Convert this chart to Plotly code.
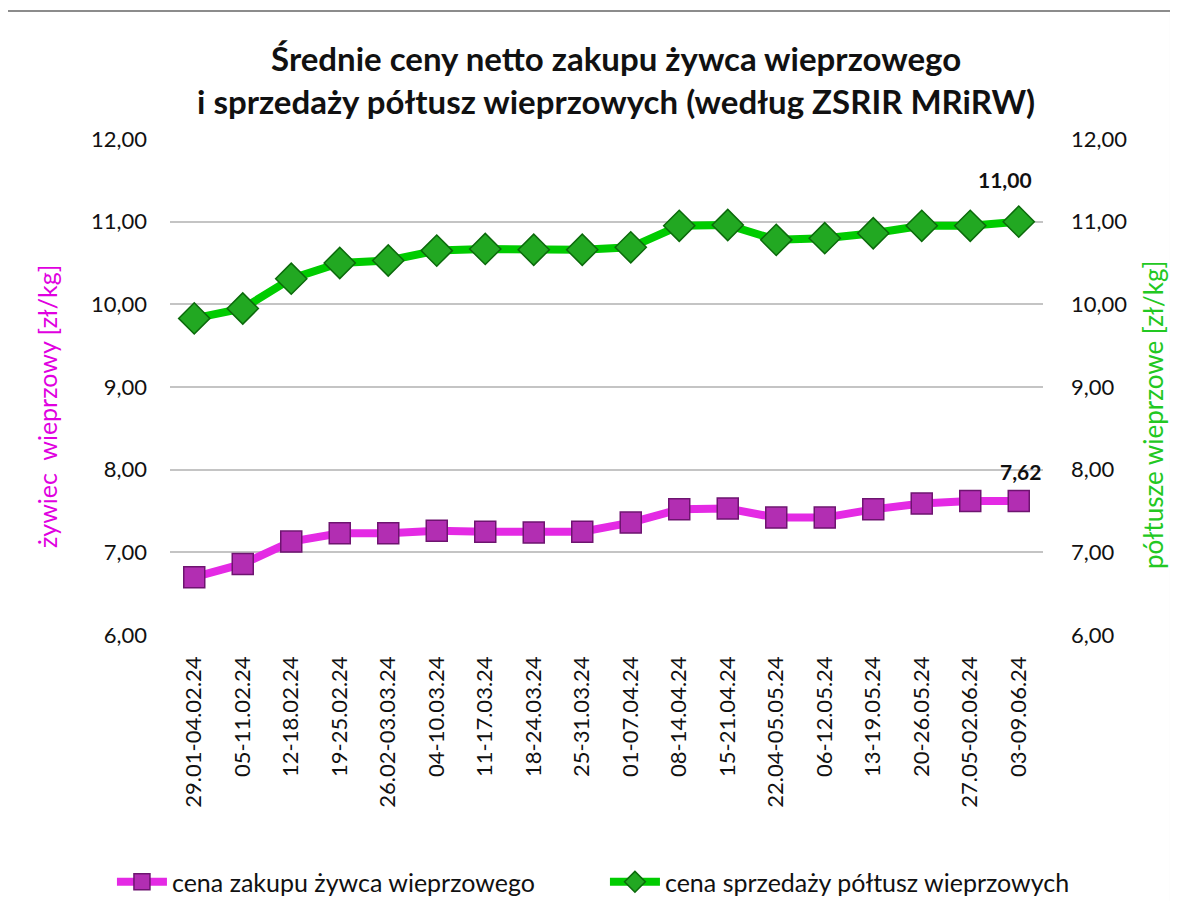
import plotly.graph_objects as go

weeks = ["29.01-04.02.24", "05-11.02.24", "12-18.02.24", "19-25.02.24", "26.02-03.03.24",
         "04-10.03.24", "11-17.03.24", "18-24.03.24", "25-31.03.24", "01-07.04.24",
         "08-14.04.24", "15-21.04.24", "22.04-05.05.24", "06-12.05.24", "13-19.05.24",
         "20-26.05.24", "27.05-02.06.24", "03-09.06.24"]
zywiec = [6.70, 6.86, 7.13, 7.23, 7.23, 7.26, 7.25, 7.24, 7.25, 7.36,
          7.52, 7.53, 7.42, 7.42, 7.52, 7.59, 7.62, 7.62]
poltusze = [9.83, 9.95, 10.31, 10.50, 10.53, 10.65, 10.67, 10.66, 10.66, 10.69,
            10.95, 10.96, 10.78, 10.80, 10.86, 10.95, 10.95, 11.00]
y_ticks = [6, 7, 8, 9, 10, 11, 12]

FONT = "Lato"

fig = go.Figure()
fig.add_trace(go.Scatter(
    x=weeks, y=zywiec, name="cena zakupu żywca wieprzowego", mode="lines+markers",
    line=dict(color="#E42AE4", width=8),
    marker=dict(symbol="square", size=21, color="#B22EB2", line=dict(color="#6E1470", width=1.5)),
    yaxis="y"))
fig.add_trace(go.Scatter(
    x=weeks, y=poltusze, name="cena sprzedaży półtusz wieprzowych", mode="lines+markers",
    line=dict(color="#00CC00", width=8),
    marker=dict(symbol="diamond", size=24, color="#22A822", line=dict(color="#0B6A0B", width=1.5)),
    yaxis="y2"))

fig.add_annotation(x=weeks[-1], y=poltusze[-1], yref="y2", text="<b>%.2f</b>" % poltusze[-1],
                   showarrow=False, yshift=42, xshift=-14,
                   font=dict(family=FONT, size=21, color="#111"))
fig.add_annotation(x=weeks[-1], y=zywiec[-1], yref="y", text="<b>%.2f</b>" % zywiec[-1],
                   showarrow=False, yshift=30, xshift=2,
                   font=dict(family=FONT, size=21, color="#111"))
for a in fig.layout.annotations:
    a.text = a.text.replace(".", ",")

fig.add_annotation(xref="paper", yref="paper", x=0.511, y=1.119, xanchor="center", yanchor="middle",
                   text="<b>Średnie ceny netto zakupu żywca wieprzowego<br>i sprzedaży półtusz wieprzowych (według ZSRIR MRiRW)</b>",
                   showarrow=False, font=dict(family=FONT, size=33, color="#111"))
fig.add_annotation(xref="paper", yref="paper", x=-0.1409, y=0.4617, textangle=-90,
                   xanchor="center", yanchor="middle",
                   text="żywiec\u00a0 wieprzowy [zł/kg]", showarrow=False,
                   font=dict(family=FONT, size=25, color="#E000E0"))
fig.add_annotation(xref="paper", yref="paper", x=1.126, y=0.4435, textangle=-90,
                   xanchor="center", yanchor="middle",
                   text="półtusze wieprzowe [zł/kg]", showarrow=False,
                   font=dict(family=FONT, size=26, color="#22C822"))

fig.add_shape(type="rect", xref="paper", yref="paper", x0=-0.1879, x1=1.1466, y0=-0.6, y1=1.258,
              line=dict(color="#8C8C8C", width=2), fillcolor="rgba(0,0,0,0)")

yax = dict(range=[6, 12], tickvals=y_ticks, tickformat=".2f", showline=False, zeroline=False,
           tickfont=dict(family=FONT, size=22, color="#111"))
fig.update_layout(
    width=1170, height=893, separators=", ",
    margin=dict(l=162, r=135, t=131, b=266, autoexpand=False),
    paper_bgcolor="white", plot_bgcolor="white",
    showlegend=True,
    legend=dict(orientation="h", xref="paper", yref="paper", x=-0.0665, y=-0.498,
                xanchor="left", yanchor="middle", font=dict(family=FONT, size=25, color="#111"),
                itemwidth=50, tracegroupgap=0, entrywidth=428, entrywidthmode="pixels"),
    xaxis=dict(type="category", range=[-0.5, len(weeks) - 0.5], tickangle=-90, showgrid=False,
               showline=False, ticks="", tickfont=dict(family=FONT, size=22, color="#111"),
               ticklabelstandoff=16),
    yaxis=dict(**yax, showgrid=True, gridcolor="#C4C4C4", gridwidth=2, side="left",
               ticklabelstandoff=22),
    yaxis2=dict(**yax, showgrid=False, overlaying="y", side="right", ticklabelstandoff=27),
)

fig.write_html("out.html")
